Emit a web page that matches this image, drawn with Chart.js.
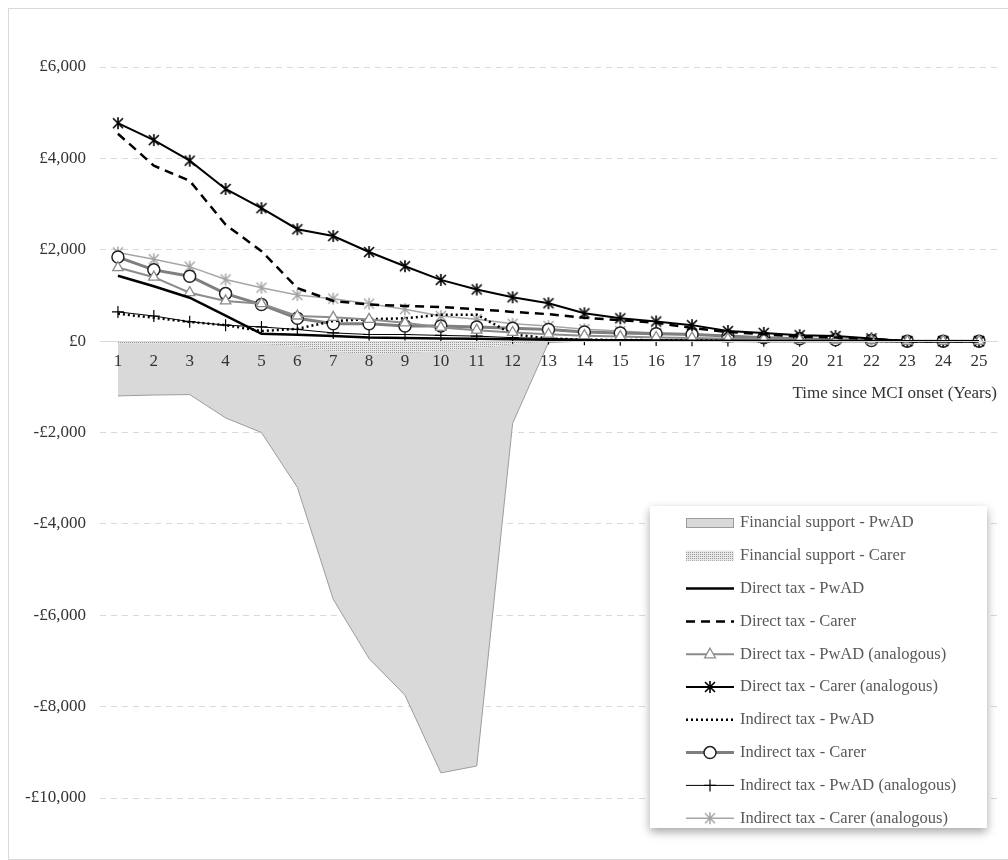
<!DOCTYPE html>
<html>
<head>
<meta charset="utf-8">
<script src="https://cdn.jsdelivr.net/npm/chart.js@4.4.1/dist/chart.umd.min.js"></script>
<style>
  body { margin: 0; background: #fff; }
  #wrap { position: relative; width: 1008px; height: 860px; }
  #frame { position: absolute; left: 8px; top: 8px; width: 1010px; height: 850px;
           border-left: 1px solid #d9d9d9; border-top: 1px solid #d9d9d9; border-bottom: 1px solid #d9d9d9; }
  canvas { position: absolute; left: 0; top: 0; }
</style>
</head>
<body>
<div id="wrap">
  <div id="frame"></div>
  <canvas id="chartID" width="1008" height="860"></canvas>
</div>
<script>
  // values (GBP per year)
  var years = ["1","2","3","4","5","6","7","8","9","10","11","12","13","14","15","16","17","18","19","20","21","22","23","24","25"];
  var finSupportPwAD  = [-1200,-1180,-1170,-1680,-2000,-3200,-5650,-6950,-7750,-9450,-9300,-1800,-30,0,0,0,0,0,0,0,0,0,0,0,0];
  var finSupportCarer = [-50,-50,-50,-50,-60,-120,-230,-280,-260,-220,-160,-70,0,0,0,0,0,0,0,0,0,0,0,0,0];
  var directPwAD      = [1430,1200,950,560,160,140,110,80,70,60,50,40,30,20,20,15,10,10,5,5,5,0,0,0,0];
  var directCarer     = [4540,3840,3510,2550,1970,1160,880,800,770,745,700,640,590,510,460,400,290,200,150,100,80,50,0,0,0];
  var directPwADAn    = [1610,1400,1060,880,820,550,520,475,400,300,240,190,150,120,100,80,70,50,40,30,20,10,0,0,0];
  var directCarerAn   = [4770,4400,3950,3330,2910,2450,2300,1950,1640,1340,1130,960,830,610,500,430,350,220,180,130,110,60,0,0,0];
  var indirectPwAD    = [600,510,420,350,220,270,440,480,500,580,580,150,60,30,25,20,20,15,15,10,10,5,0,0,0];
  var indirectCarer   = [1840,1560,1420,1040,800,500,380,380,330,330,310,280,255,200,180,160,145,110,75,50,30,15,0,0,0];
  var indirectPwADAn  = [640,550,425,350,310,255,180,145,145,125,110,75,60,40,30,25,20,15,10,10,5,5,0,0,0];
  var indirectCarerAn = [1940,1790,1630,1350,1170,1010,930,820,700,550,480,380,330,260,220,180,160,110,80,50,40,20,0,0,0];
  var yTicks = [-10000,-8000,-6000,-4000,-2000,0,2000,4000,6000];

  var serif = "'Liberation Serif', 'DejaVu Serif', serif";

  // dotted fill for carer support
  function makeDots() {
    var c = document.createElement('canvas');
    c.width = 2; c.height = 2;
    var g = c.getContext('2d');
    g.fillStyle = '#e8e8e8'; g.fillRect(0, 0, 2, 2);
    g.fillStyle = '#999999'; g.fillRect(0, 0, 1, 1);
    return g.createPattern(c, 'repeat');
  }
  var dots = makeDots();

  // X with a vertical bar marker
  function makeStar(color, lw) {
    var c = document.createElement('canvas');
    c.width = 14; c.height = 14;
    var g = c.getContext('2d');
    g.strokeStyle = color; g.lineWidth = lw;
    g.beginPath();
    g.moveTo(2, 2); g.lineTo(12, 12);
    g.moveTo(12, 2); g.lineTo(2, 12);
    g.moveTo(7, 1); g.lineTo(7, 13);
    g.stroke();
    return c;
  }
  var starBlack = makeStar('#000', 1.6);
  var starGray = makeStar('#a0a0a0', 1.4);

  function drawMarker(ctx, ds, x, y) {
    var st = ds.pointStyle;
    if (!st || ds.pointRadius === 0) return;
    if (typeof st !== 'string') { ctx.drawImage(st, x - st.width / 2, y - st.height / 2); return; }
    var r = ds.pointRadius;
    ctx.save();
    ctx.setLineDash([]);
    ctx.lineWidth = ds.pointBorderWidth;
    ctx.strokeStyle = ds.pointBorderColor;
    ctx.fillStyle = ds.pointBackgroundColor;
    ctx.beginPath();
    if (st === 'circle') {
      ctx.arc(x, y, r, 0, Math.PI * 2);
      ctx.fill(); ctx.stroke();
    } else if (st === 'triangle') {
      ctx.moveTo(x, y - r);
      ctx.lineTo(x + r * 0.9, y + r * 0.6);
      ctx.lineTo(x - r * 0.9, y + r * 0.6);
      ctx.closePath();
      ctx.fill(); ctx.stroke();
    } else if (st === 'cross') {
      ctx.moveTo(x, y - r); ctx.lineTo(x, y + r);
      ctx.moveTo(x - r, y); ctx.lineTo(x + r, y);
      ctx.stroke();
    }
    ctx.restore();
  }

  var boxLegend = {
    id: 'boxLegend',
    afterDraw: function (chart) {
      var ctx = chart.ctx;
      var x0 = 650, y0 = 506, w = 337, h = 322;
      ctx.save();
      ctx.shadowColor = 'rgba(0,0,0,0.35)';
      ctx.shadowBlur = 9;
      ctx.shadowOffsetY = 4;
      ctx.fillStyle = '#fff';
      ctx.fillRect(x0, y0, w, h);
      ctx.restore();

      chart.data.datasets.forEach(function (ds, i) {
        var cy = 523 + i * 32.8;
        var sx = 686, ex = 734;
        ctx.save();
        if (ds.fill) {
          ctx.fillStyle = ds.backgroundColor;
          ctx.fillRect(sx, cy - 5, ex - sx, 10);
          if (ds.borderWidth) {
            ctx.strokeStyle = ds.borderColor; ctx.lineWidth = 1;
            ctx.strokeRect(sx + 0.5, cy - 4.5, ex - sx - 1, 9);
          }
        } else {
          ctx.strokeStyle = ds.borderColor;
          ctx.lineWidth = ds.borderWidth;
          ctx.setLineDash(ds.borderDash || []);
          ctx.beginPath();
          ctx.moveTo(sx, cy); ctx.lineTo(ex, cy);
          ctx.stroke();
          drawMarker(ctx, ds, (sx + ex) / 2, cy);
        }
        ctx.restore();
        ctx.fillStyle = '#595959';
        ctx.font = '16.5px ' + serif;
        ctx.textBaseline = 'middle';
        ctx.fillText(ds.label, 740, cy);
      });
    }
  };

  function lineSet(label, data, color, width, extra) {
    var d = {
      type: 'line', label: label, data: data,
      borderColor: color, borderWidth: width, backgroundColor: color,
      fill: false, tension: 0, order: 0,
      pointStyle: false, pointRadius: 0, pointHoverRadius: 0
    };
    for (var k in extra) d[k] = extra[k];
    return d;
  }

  var ctx = document.getElementById('chartID').getContext('2d');
  var myChart = new Chart(ctx, {
    type: 'line',
    plugins: [boxLegend],
    data: {
      labels: years,
      datasets: [
        { label: 'Financial support - PwAD', data: finSupportPwAD, fill: 'origin',
          backgroundColor: '#d9d9d9', borderColor: '#9c9c9c', borderWidth: 1,
          pointRadius: 0, tension: 0, order: 10 },
        { label: 'Financial support - Carer', data: finSupportCarer, fill: 'origin',
          backgroundColor: dots, borderColor: 'rgba(0,0,0,0)', borderWidth: 0,
          pointRadius: 0, tension: 0, order: 9 },
        lineSet('Direct tax - PwAD', directPwAD, '#000', 2.5, {}),
        lineSet('Direct tax - Carer', directCarer, '#000', 2.5, { borderDash: [9, 6] }),
        lineSet('Direct tax - PwAD (analogous)', directPwADAn, '#8c8c8c', 2, {
          pointStyle: 'triangle', pointRadius: 6, pointBorderWidth: 1.3,
          pointBorderColor: '#8c8c8c', pointBackgroundColor: '#fff' }),
        lineSet('Direct tax - Carer (analogous)', directCarerAn, '#000', 2, {
          pointStyle: starBlack, pointRadius: 7 }),
        lineSet('Indirect tax - PwAD', indirectPwAD, '#000', 2.5, { borderDash: [2, 3] }),
        lineSet('Indirect tax - Carer', indirectCarer, '#7f7f7f', 3, {
          pointStyle: 'circle', pointRadius: 6, pointBorderWidth: 1.5,
          pointBorderColor: '#222', pointBackgroundColor: '#fff' }),
        lineSet('Indirect tax - PwAD (analogous)', indirectPwADAn, '#000', 1, {
          pointStyle: 'cross', pointRadius: 6, pointBorderWidth: 1.2,
          pointBorderColor: '#000', pointBackgroundColor: '#000' }),
        lineSet('Indirect tax - Carer (analogous)', indirectCarerAn, '#a6a6a6', 1.5, {
          pointStyle: starGray, pointRadius: 7 })
      ]
    },
    options: {
      responsive: false,
      animation: false,
      layout: { padding: { left: 8, top: 67, right: 11, bottom: 62 } },
      plugins: {
        legend: { display: false },
        tooltip: { enabled: false },
        title: { display: false }
      },
      scales: {
        x: {
          type: 'category',
          position: { y: 0 },
          offset: true,
          grid: { display: false, drawTicks: false },
          border: { display: true, color: '#d9d9d9', width: 1, z: 1 },
          ticks: { autoSkip: false, maxRotation: 0, padding: 10, z: 1,
                   color: '#333', font: { family: serif, size: 17 } },
          title: { display: true, text: 'Time since MCI onset (Years)', align: 'end',
                   color: '#333', font: { family: serif, size: 17 }, padding: { top: 2 } }
        },
        y: {
          min: -10000, max: 6000,
          afterFit: function (scale) { scale.width = 92; },
          afterBuildTicks: function (scale) { scale.ticks = yTicks.map(function (v) { return { value: v }; }); },
          grid: { color: '#d9d9d9', drawTicks: false, lineWidth: 1 },
          border: { display: false, dash: [6, 5] },
          ticks: {
            padding: 14, color: '#333', font: { family: serif, size: 17 },
            callback: function (v) {
              var s = '£' + Math.abs(v).toLocaleString('en-GB');
              return v < 0 ? '-' + s : s;
            }
          }
        }
      }
    }
  });
</script>
</body>
</html>
